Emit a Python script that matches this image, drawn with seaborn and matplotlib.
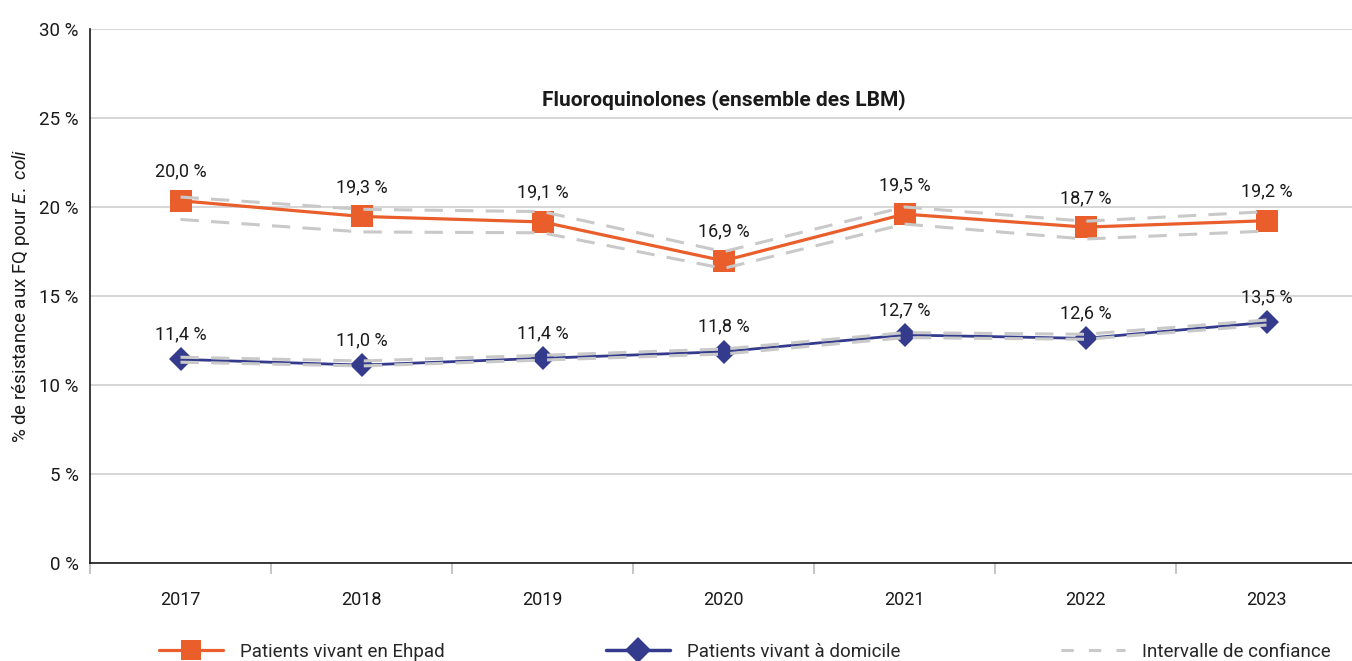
import matplotlib
matplotlib.use("Agg")
import matplotlib.pyplot as plt
from matplotlib.lines import Line2D
from matplotlib.ticker import FixedLocator, FuncFormatter
import seaborn as sns
import pandas as pd

years = ["2017", "2018", "2019", "2020", "2021", "2022", "2023"]

ehpad = [20.35, 19.47, 19.16, 16.98, 19.6, 18.87, 19.23]
ehpad_low = [19.3, 18.6, 18.55, 16.55, 19.04, 18.2, 18.65]
ehpad_high = [20.56, 19.87, 19.74, 17.49, 20.0, 19.2, 19.74]
ehpad_labels = ["20,0 %", "19,3 %", "19,1 %", "16,9 %", "19,5 %", "18,7 %", "19,2 %"]

domicile = [11.44, 11.12, 11.5, 11.87, 12.81, 12.62, 13.52]
domicile_low = [11.28, 11.07, 11.4, 11.74, 12.66, 12.57, 13.37]
domicile_high = [11.56, 11.35, 11.67, 12.02, 12.94, 12.85, 13.65]
domicile_labels = ["11,4 %", "11,0 %", "11,4 %", "11,8 %", "12,7 %", "12,6 %", "13,5 %"]

title = "Fluoroquinolones (ensemble des LBM)"
series_names = ["Patients vivant en Ehpad", "Patients vivant à domicile", "Intervalle de confiance"]
yticks = [0, 5, 10, 15, 20, 25, 30]

ORANGE = "#E95E2B"
BLUE = "#353B8C"
GREY = "#C9C9C9"
TXT = "#1a1a1a"

sns.set_style("white")
plt.rcParams["font.family"] = ["Roboto", "DejaVu Sans"]
plt.rcParams["mathtext.fontset"] = "custom"
plt.rcParams["mathtext.it"] = "Roboto:italic"
plt.rcParams["mathtext.rm"] = "Roboto"

fig = plt.figure(figsize=(13.52, 6.61), dpi=100)
ax = fig.add_axes([90 / 1352, 1 - 563 / 661, (1357 - 90) / 1352, (563 - 29) / 661])

xs = list(range(len(years)))
df = pd.DataFrame({"x": xs, "ehpad": ehpad, "dom": domicile,
                   "el": ehpad_low, "eh": ehpad_high,
                   "dl": domicile_low, "dh": domicile_high})

sns.lineplot(data=df, x="x", y="ehpad", ax=ax, color=ORANGE, lw=2.3,
             marker="s", markersize=16, markeredgewidth=0, zorder=3)
sns.lineplot(data=df, x="x", y="dom", ax=ax, color=BLUE, lw=2.0,
             marker="D", markersize=12.5, markeredgewidth=0, zorder=3)
for col in ["el", "eh", "dl", "dh"]:
    sns.lineplot(data=df, x="x", y=col, ax=ax, color=GREY, lw=2.2,
                 dashes=False, zorder=4, linestyle=(0, (6, 4)))

for x, y, lab in zip(xs, ehpad, ehpad_labels):
    ax.annotate(lab, (x, y), xytext=(0, 21), textcoords="offset points",
                ha="center", va="center", fontsize=13, color=TXT)
for x, y, lab in zip(xs, domicile, domicile_labels):
    ax.annotate(lab, (x, y), xytext=(0, 18), textcoords="offset points",
                ha="center", va="center", fontsize=13, color=TXT)

ax.set_xlim(-0.5, 6.5)
ax.set_ylim(0, 30)
ax.yaxis.set_major_locator(FixedLocator(yticks))
ax.yaxis.set_major_formatter(FuncFormatter(lambda v, p: f"{int(v)} %"))
ax.grid(axis="y", color="#CFCFCF", lw=1.2)
ax.set_axisbelow(True)
ax.set_xticks(xs)
ax.set_xticklabels(years)
ax.set_xticks([i - 0.5 for i in range(len(years) + 1)], minor=True)
ax.tick_params(axis="x", which="major", bottom=True, length=0, pad=20, labelsize=13, labelcolor=TXT)
ax.tick_params(axis="x", which="minor", bottom=True, length=8, width=1.2, color="#BBBBBB", direction="out")
ax.tick_params(axis="y", length=0, pad=8, labelsize=13.5, labelcolor=TXT)

for s in ["top", "right"]:
    ax.spines[s].set_visible(False)
for s in ["left", "bottom"]:
    ax.spines[s].set_color(TXT)
    ax.spines[s].set_linewidth(1.2)

ax.set_xlabel("")
ax.set_ylabel(r"% de résistance aux FQ pour $\mathit{E.\ coli}$", fontsize=13.5,
              color=TXT, labelpad=5)

ax.text(0.5, 0.867, title, transform=ax.transAxes, ha="center", va="center",
        fontsize=15, fontweight="bold", color=TXT)

handles = [
    Line2D([], [], color=ORANGE, lw=2.3, marker="s", markersize=15, markeredgewidth=0),
    Line2D([], [], color=BLUE, lw=2.5, marker="D", markersize=13, markeredgewidth=0),
    Line2D([], [], color=GREY, lw=2.2, linestyle=(0, (4, 5))),
]
fig.legend(handles, series_names, loc="center", bbox_to_anchor=(745 / 1352, 1 - 652 / 661),
           ncol=3, frameon=False, fontsize=13.5, handlelength=3.4, handletextpad=0.9,
           columnspacing=8.6, borderaxespad=0)

fig.savefig("out.png", dpi=100)
